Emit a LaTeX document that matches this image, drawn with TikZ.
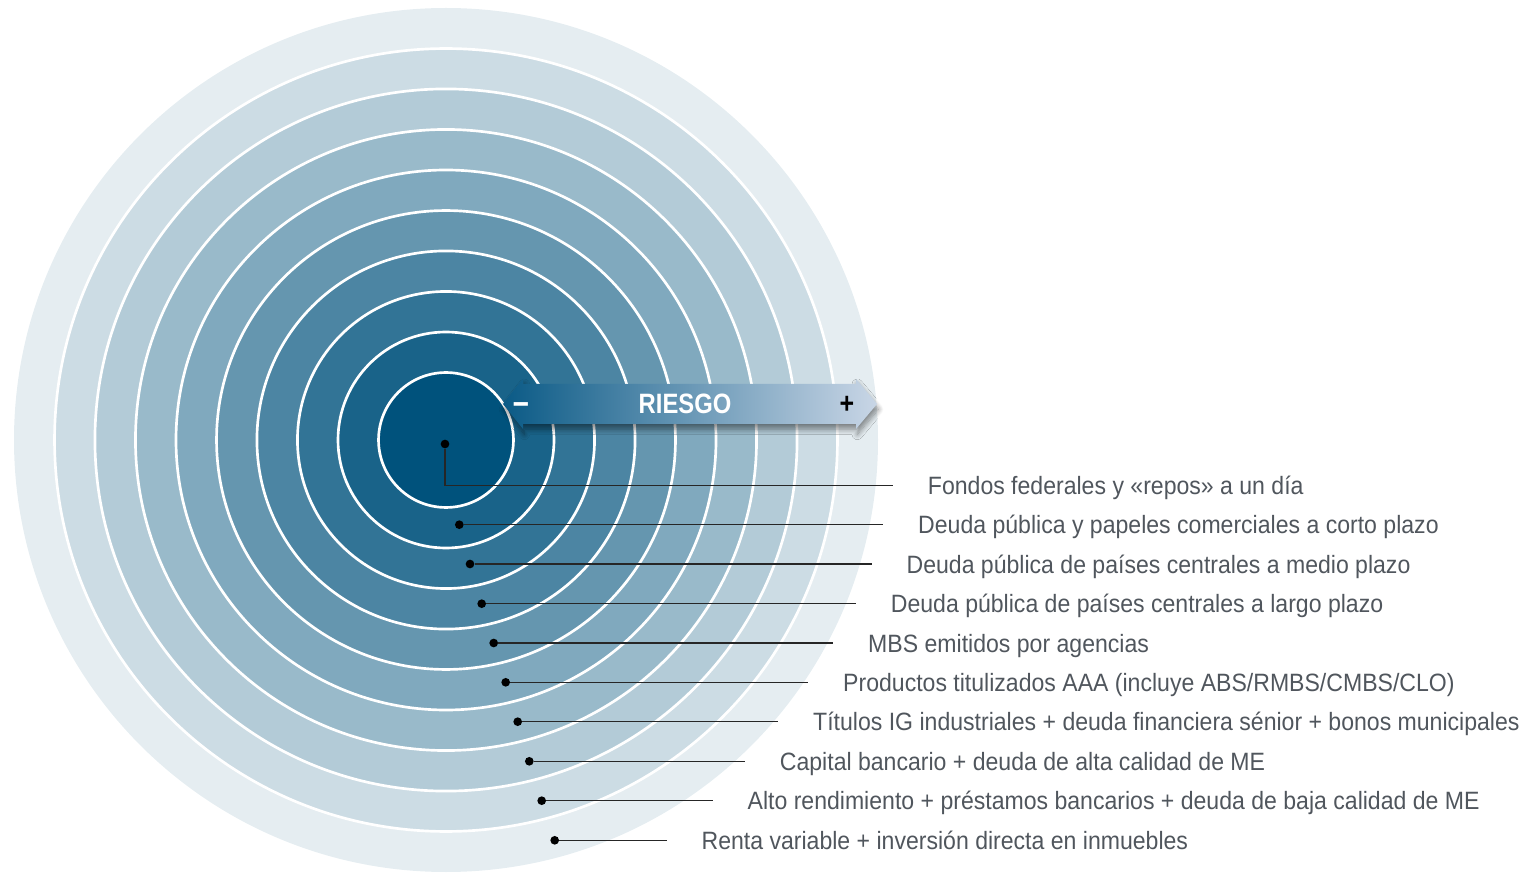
\documentclass[tikz,border=0pt]{standalone}
\usepackage{fontspec}
\setmainfont{Liberation Sans}
\newfontfamily\labelfont[FakeStretch=0.92]{Liberation Sans}
\newfontfamily\riskfont[FakeStretch=0.85]{Liberation Sans Bold}
\usetikzlibrary{shadows.blur}
\definecolor{ringdark}{RGB}{0,82,124}
\definecolor{ringlight}{RGB}{229,237,241}
\definecolor{labelgray}{HTML}{50565D}
\definecolor{riskleft}{HTML}{0A5A86}
\definecolor{riskmid}{HTML}{5A85AB}
\definecolor{riskright}{HTML}{C9D6E6}

\begin{document}
\begin{tikzpicture}[x=0.75pt, y=-0.75pt,
	ring/.style={draw=white, line width=2pt},
	dot/.style={circle, fill=black, inner sep=0pt, minimum size=6.5pt},
	lbl/.style={anchor=west, inner xsep=26pt, inner ysep=0pt, text height=13.5pt, text depth=0pt, text=labelgray, font=\labelfont\fontsize{18.8}{20}\selectfont},
	leader/.style={line width=0.9pt, black!85}]
	\useasboundingbox (0,0) rectangle (1532,880);
	\coordinate (c) at (446,440);
	\fill[ringlight] (c) circle (324pt); % outer ring
	\filldraw[ring, fill=ringlight!89!ringdark] (c) circle (293.6pt);
	\filldraw[ring, fill=ringlight!78!ringdark] (c) circle (263.3pt);
	\filldraw[ring, fill=ringlight!67!ringdark] (c) circle (232.9pt);
	\filldraw[ring, fill=ringlight!56!ringdark] (c) circle (202.5pt);
	\filldraw[ring, fill=ringlight!44!ringdark] (c) circle (172.1pt);
	\filldraw[ring, fill=ringlight!33!ringdark] (c) circle (141.8pt);
	\filldraw[ring, fill=ringlight!22!ringdark] (c) circle (111.4pt);
	\filldraw[ring, fill=ringlight!11!ringdark] (c) circle (81pt);
	\filldraw[ring, fill=ringdark] (c) circle (50.6pt); % inner disk
	% risk arrow
	\path[blur shadow={shadow xshift=1pt, shadow yshift=-4pt, shadow opacity=45, shadow blur steps=10, shadow blur radius=4pt},
		left color=riskleft, middle color=riskmid, right color=riskright]
		(503,404) -- (523,379) -- (523,384) -- (856,384) -- (856,379) -- (877,404)
		-- (856,429) -- (856,424) -- (523,424) -- (523,429) -- cycle;
	\node[text=white, font=\riskfont\fontsize{21}{22}\selectfont] (risk) at (685,404) {RIESGO};
	\node[text=white, font=\riskfont\fontsize{25}{26}\selectfont] (minus) at (521,409) {−};
	\node[text=black, font=\riskfont\fontsize{22}{23}\selectfont] (plus) at (847,405) {+};
	% labels
	\node[dot] (d1) at (445,444) {};
	\node[dot] (d2) at (459.3,524.7) {};
	\node[dot] (d3) at (470,564) {};
	\node[dot] (d4) at (481.7,603.7) {};
	\node[dot] (d5) at (493.7,643) {};
	\node[dot] (d6) at (505.7,682.3) {};
	\node[dot] (d7) at (517.7,721.7) {};
	\node[dot] (d8) at (529.3,761.3) {};
	\node[dot] (d9) at (541.7,800.7) {};
	\node[dot] (d10) at (554.7,840.3) {};
	\node[lbl] (l1) at (893,485.2) {Fondos federales y «repos» a un día};
	\node[lbl] (l2) at (883.3,524.7) {Deuda pública y papeles comerciales a corto plazo};
	\node[lbl] (l3) at (871.7,564) {Deuda pública de países centrales a medio plazo};
	\node[lbl] (l4) at (856,603.7) {Deuda pública de países centrales a largo plazo};
	\node[lbl] (l5) at (833.3,643) {MBS emitidos por agencias};
	\node[lbl] (l6) at (808.3,682.3) {Productos titulizados AAA (incluye ABS/RMBS/CMBS/CLO)};
	\node[lbl] (l7) at (778.3,721.7) {Títulos IG industriales + deuda financiera sénior + bonos municipales};
	\node[lbl] (l8) at (745,761.3) {Capital bancario + deuda de alta calidad de ME};
	\node[lbl] (l9) at (712.7,800.7) {Alto rendimiento + préstamos bancarios + deuda de baja calidad de ME};
	\node[lbl] (l10) at (666.7,840.3) {Renta variable + inversión directa en inmuebles};
	\draw[leader] (d1) |- (l1.west);
	\draw[leader] (d2) -- (l2.west);
	\draw[leader] (d3) -- (l3.west);
	\draw[leader] (d4) -- (l4.west);
	\draw[leader] (d5) -- (l5.west);
	\draw[leader] (d6) -- (l6.west);
	\draw[leader] (d7) -- (l7.west);
	\draw[leader] (d8) -- (l8.west);
	\draw[leader] (d9) -- (l9.west);
	\draw[leader] (d10) -- (l10.west);
\end{tikzpicture}
\end{document}
